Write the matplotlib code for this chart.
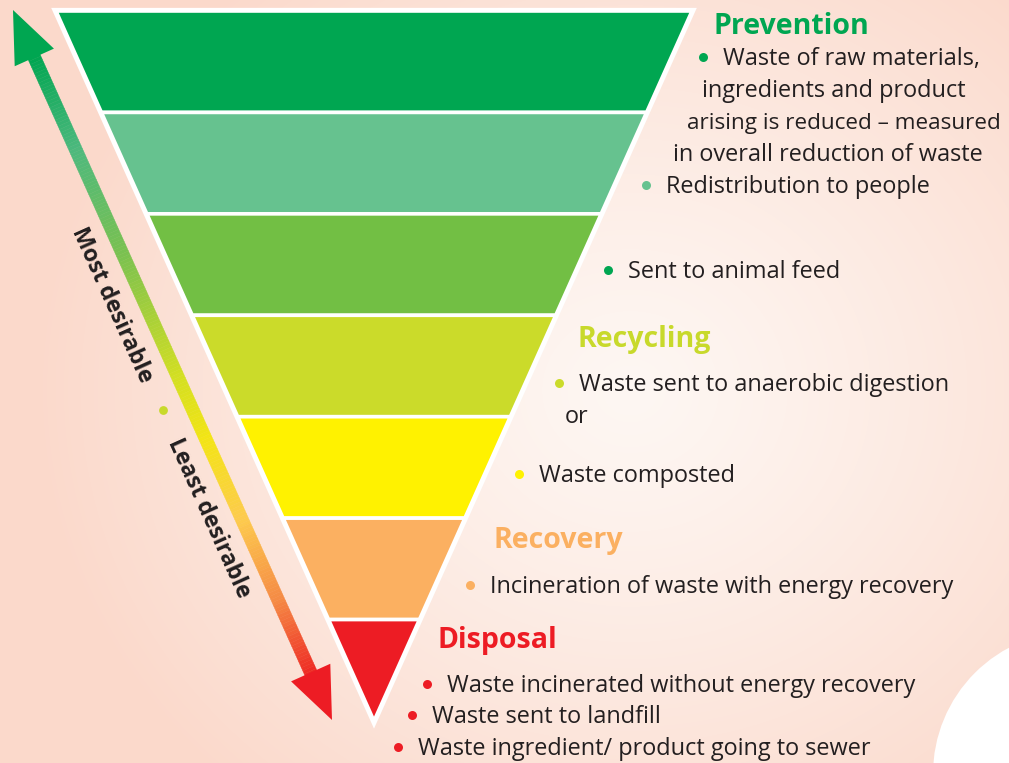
#Food waste hierarchy - inverted pyramid

import numpy as np
import matplotlib.pyplot as plt
from matplotlib.patches import Polygon, Circle
from matplotlib.collections import PolyCollection
from matplotlib.colors import LinearSegmentedColormap, to_rgb

plt.rcParams['font.family'] = ['Open Sans', 'DejaVu Sans']

# pyramid layers, top (most desirable) to bottom
layer_colors = ['#00A651', '#66C28F', '#72BF44', '#CBDB2A', '#FFF200', '#FBB061', '#ED1C24']

# section headings
headings = ['Prevention', 'Recycling', 'Recovery', 'Disposal']
heading_colors = ['#00A651', '#C8D92B', '#FBB061', '#ED1C24']

# bullet text lines (None = continuation line, no bullet)
lines = ['Waste of raw materials,',
         'ingredients and product',
         'arising is reduced \u2013 measured',
         'in overall reduction of waste',
         'Redistribution to people',
         'Sent to animal feed',
         'Waste sent to anaerobic digestion',
         'or',
         'Waste composted',
         'Incineration of waste with energy recovery',
         'Waste incinerated without energy recovery',
         'Waste sent to landfill',
         'Waste ingredient/ product going to sewer']
bullet_colors = ['#00A651', None, None, None, '#66C28F', '#00A651',
                 '#CBDB2A', None, '#FFF200', '#FBB061',
                 '#ED1C24', '#ED1C24', '#ED1C24']

arrow_labels = ['Most desirable', 'Least desirable']

# layout (pixel coordinates)
heading_x = [713, 577, 493, 438]
heading_y = [34, 347, 548, 648]
line_x = [723, 702, 687, 673, 666, 628, 579, 565, 539, 490, 447, 432, 418]
line_y = [65, 97, 129, 161, 193, 278, 391, 423, 482, 593, 692, 723, 755]
line_size = [16.9, 16.9, 16.2, 16.9, 16.9, 16.9, 16.9, 16.9, 16.9, 16.9, 16.9, 16.9, 16.9]
text_color = '#231F20'

W, H = 1009, 763
fig = plt.figure(figsize=(W / 100, H / 100), dpi=100)
ax = fig.add_axes([0, 0, 1, 1])
ax.set_xlim(0, W)
ax.set_ylim(H, 0)
ax.axis('off')

# background: soft peach with a lighter centre
yy, xx = np.mgrid[0:H, 0:W]
d = np.sqrt(((xx - 630) / 1.0) ** 2 + ((yy - 390) / 0.9) ** 2)
t = np.clip(d / 600, 0, 1) ** 1.2
light = np.array(to_rgb('#FEF7F3'))
peach = np.array(to_rgb('#FBD9CB'))
bg = light[None, None, :] * (1 - t[..., None]) + peach[None, None, :] * t[..., None]
ax.imshow(bg, extent=[0, W, H, 0], zorder=0, interpolation='bilinear')
ax.add_patch(Circle((1076, 774), 143, fc='white', ec='none', zorder=1))

# funnel
top_y, apex_y, cx, half_w = 11, 721, 374, 318
n = len(layer_colors)
h = (apex_y - top_y) / n

def half_width(y):
    return half_w * (apex_y - y) / (apex_y - top_y)

ax.add_patch(Polygon([(cx - half_w, top_y), (cx + half_w, top_y), (cx, apex_y)],
                     closed=True, fc='white', ec='white', lw=4.5, joinstyle='miter', zorder=2))
for i, c in enumerate(layer_colors):
    y0 = top_y + i * h
    y1 = y0 + h
    pts = [(cx - half_width(y0), y0), (cx + half_width(y0), y0),
           (cx + half_width(y1), y1), (cx - half_width(y1), y1)]
    ax.add_patch(Polygon(pts, closed=True, fc=c, ec='white', lw=2.6,
                         joinstyle='miter', zorder=3))

# gradient arrow
tip_top = np.array([13.0, 10.0])
tip_bot = np.array([332.0, 720.0])
vec = tip_bot - tip_top
u = vec / np.linalg.norm(vec)
nv = np.array([u[1], -u[0]])
head_len, head_w, shaft_w = 52, 43, 13
base_top = tip_top + u * head_len
base_bot = tip_bot - u * head_len

arrow_cmap = LinearSegmentedColormap.from_list('arrow', [
    (0.00, '#00A651'), (0.15, '#4DB97E'), (0.32, '#7AC150'),
    (0.52, '#D3DF22'), (0.62, '#F3E515'), (0.75, '#FDCB4D'),
    (0.88, '#F58B45'), (1.00, '#EE2A24')])
nseg = 200
s = np.linspace(0, 1, nseg + 1)
p0 = base_top - u * 2
p1 = base_bot + u * 2
quads, cols = [], []
for k in range(nseg):
    a = p0 + (p1 - p0) * s[k]
    b = p0 + (p1 - p0) * s[k + 1]
    quads.append([a + nv * shaft_w / 2, b + nv * shaft_w / 2,
                  b - nv * shaft_w / 2, a - nv * shaft_w / 2])
    cols.append(arrow_cmap((s[k] + s[k + 1]) / 2))
ax.add_collection(PolyCollection(quads, facecolors=cols, edgecolors=cols, lw=0.3, zorder=2))
ax.add_patch(Polygon([tip_top, base_top + nv * head_w / 2, base_top - nv * head_w / 2],
                     closed=True, fc='#00A651', ec='none', zorder=2))
ax.add_patch(Polygon([tip_bot, base_bot + nv * head_w / 2, base_bot - nv * head_w / 2],
                     closed=True, fc='#ED1C24', ec='none', zorder=2))

angle = -np.degrees(np.arctan2(vec[1], vec[0]))
ax.text(112, 305, arrow_labels[0], rotation=angle, rotation_mode='anchor',
        ha='center', va='center', fontsize=16.5, fontweight='bold', color=text_color, zorder=4)
ax.text(209, 518, arrow_labels[1], rotation=angle, rotation_mode='anchor',
        ha='center', va='center', fontsize=16.5, fontweight='bold', color=text_color, zorder=4)
ax.scatter([163], [410], s=40, color='#C8D92B', zorder=4, linewidths=0)

# headings and bullet text
for txt, c, x, y in zip(headings, heading_colors, heading_x, heading_y):
    ax.text(x, y, txt, ha='left', va='baseline', fontsize=20.5, fontweight='bold',
            color=c, zorder=4)
for txt, bc, x, y, fs in zip(lines, bullet_colors, line_x, line_y, line_size):
    ax.text(x, y, txt, ha='left', va='baseline', fontsize=fs, color=text_color, zorder=4)
    if bc is not None:
        ax.scatter([x - 20], [y - 8], s=42, color=bc, zorder=4, linewidths=0)

plt.savefig('out.png', dpi=100)
